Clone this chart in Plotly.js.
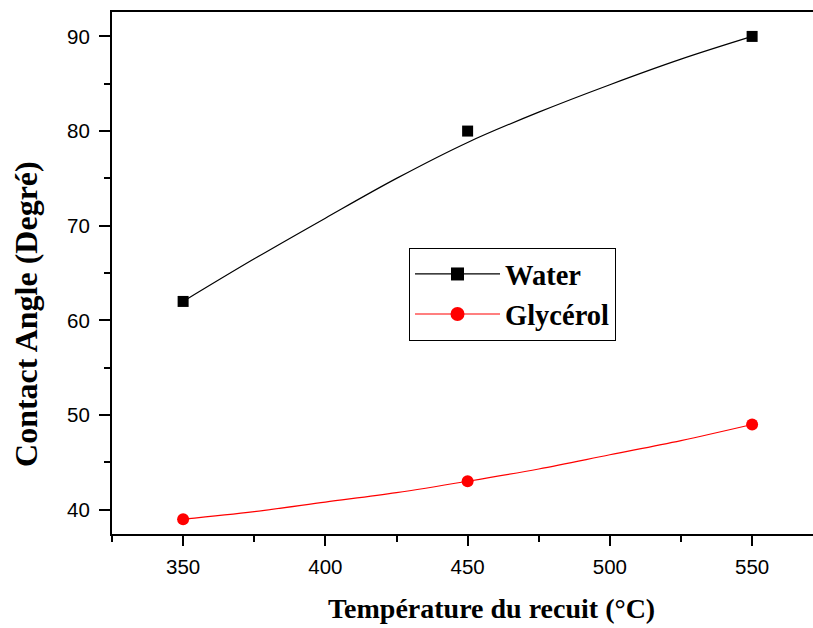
<!DOCTYPE html>
<html>
<head>
<meta charset="utf-8">
<script src="https://cdn.plot.ly/plotly-3.0.1.min.js"></script>
<style>html,body{margin:0;padding:0;background:#fff;overflow:hidden;}</style>
</head>
<body>
<div id="chart" style="width:813px;height:628px;"></div>
<script>
// Measured data points
const temperature = [350, 450, 550];
const waterAngle = [62, 80, 90];
const glycerolAngle = [39, 43, 49];

// Fitted curves
const fitTemperature = [350, 375, 400, 425, 450, 475, 500, 525, 550];
const waterFit = [62.0, 66.5, 70.8, 75.0, 78.8, 82.0, 84.9, 87.6, 90.0];
const glycerolFit = [39.0, 39.8, 40.8, 41.8, 43.0, 44.3, 45.8, 47.3, 49.0];

const seriesNames = ['Water', 'Glycérol'];
const xTitle = 'Température du recuit (°C)';
const yTitle = 'Contact Angle (Degré)';

const serif = 'Liberation Serif, Times New Roman, serif';
const sans = 'Liberation Sans, Arial, sans-serif';

const traces = [
  {x: fitTemperature, y: waterFit, mode: 'lines', line: {color: '#000000', width: 1.2, shape: 'spline'}, showlegend: false, hoverinfo: 'skip'},
  {x: fitTemperature, y: glycerolFit, mode: 'lines', line: {color: '#ff0000', width: 1.2, shape: 'spline'}, showlegend: false, hoverinfo: 'skip'},
  {x: temperature, y: waterAngle, mode: 'markers', marker: {symbol: 'square', size: 11, color: '#000000'}, showlegend: false},
  {x: temperature, y: glycerolAngle, mode: 'markers', marker: {symbol: 'circle', size: 12, color: '#ff0000'}, showlegend: false},
  {x: [null], y: [null], name: seriesNames[0], mode: 'lines+markers', line: {color: '#000000', width: 1.2}, marker: {symbol: 'square', size: 13, color: '#000000'}},
  {x: [null], y: [null], name: seriesNames[1], mode: 'lines+markers', line: {color: '#ff0000', width: 1.2}, marker: {symbol: 'circle', size: 14, color: '#ff0000'}}
];

const layout = {
  width: 813, height: 628,
  margin: {l: 112, r: 0, t: 12, b: 94, pad: 0},
  paper_bgcolor: '#ffffff', plot_bgcolor: '#ffffff',
  xaxis: {
    range: [325, 571.4], tickmode: 'linear', tick0: 350, dtick: 50,
    showgrid: false, zeroline: false,
    showline: true, linecolor: '#000', linewidth: 2, mirror: true,
    ticks: 'outside', ticklen: 10, tickwidth: 2, tickcolor: '#000',
    minor: {dtick: 25, tick0: 350, ticks: 'outside', ticklen: 6, tickwidth: 2, tickcolor: '#000', showgrid: false},
    tickfont: {family: sans, size: 20.5, color: '#000'},
    ticklabelstandoff: 3
  },
  yaxis: {
    range: [37.43, 92.58], tickmode: 'linear', tick0: 40, dtick: 10,
    showgrid: false, zeroline: false,
    showline: true, linecolor: '#000', linewidth: 2,
    ticks: 'outside', ticklen: 11, tickwidth: 2, tickcolor: '#000',
    minor: {dtick: 5, tick0: 40, ticks: 'outside', ticklen: 6, tickwidth: 2, tickcolor: '#000', showgrid: false},
    tickfont: {family: sans, size: 20.5, color: '#000'},
    ticklabelstandoff: 5
  },
  legend: {
    x: 0.4237, y: 0.548, xanchor: 'left', yanchor: 'top',
    bgcolor: '#ffffff', bordercolor: '#000', borderwidth: 1,
    font: {family: serif, size: 28.5, color: '#000', weight: 'bold'},
    itemwidth: 85
  },
  annotations: [
    {text: '<b>' + xTitle + '</b>', xref: 'paper', yref: 'paper', x: 0.5417, y: -0.1418, xanchor: 'center', yanchor: 'middle', showarrow: false, font: {family: serif, size: 28, color: '#000'}},
    {text: '<b>' + yTitle + '</b>', xref: 'paper', yref: 'paper', x: -0.1227, y: 0.4215, xanchor: 'center', yanchor: 'middle', textangle: -90, showarrow: false, font: {family: serif, size: 32, color: '#000'}}
  ],
  showlegend: true
};

Plotly.newPlot('chart', traces, layout, {displayModeBar: false, staticPlot: true});
</script>
</body>
</html>
